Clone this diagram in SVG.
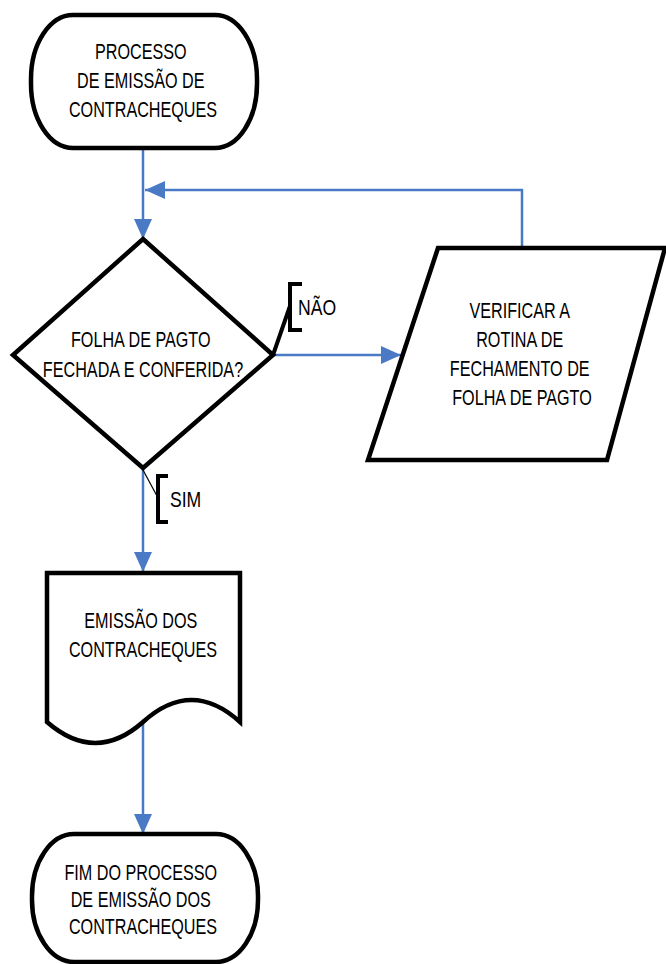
<svg xmlns="http://www.w3.org/2000/svg" width="666" height="964" viewBox="0 0 666 964">
  <style>
    .shape { fill: #ffffff; stroke: #000000; stroke-width: 4.5; stroke-linejoin: miter; }
    .flow { fill: none; stroke: #4A7AC6; stroke-width: 2.5; }
    .tag { fill: none; stroke: #000000; stroke-width: 4; }
    .thin { fill: none; stroke: #000000; stroke-width: 1.2; }
    text { font-family: "Liberation Sans", Arial, sans-serif; font-size: 22px; fill: #000000; }
    .c { text-anchor: middle; }
  </style>
  <defs>
    <marker id="arrow" viewBox="0 0 20 18" refX="20" refY="9" markerWidth="20" markerHeight="18" markerUnits="userSpaceOnUse" orient="auto">
      <path d="M0,0 L20,9 L0,18 Z" fill="#4A7AC6"/>
    </marker>
  </defs>

  <!-- connectors -->
  <g id="connectors">
    <path class="flow" d="M143,150 V239" marker-end="url(#arrow)"/>
    <path class="flow" d="M522,248 V190 H145" marker-end="url(#arrow)"/>
    <path class="flow" d="M273,355 H401" marker-end="url(#arrow)"/>
    <path class="flow" d="M143,468 V572" marker-end="url(#arrow)"/>
    <path class="flow" d="M143,722 V834" marker-end="url(#arrow)"/>
    <!-- branch labels -->
    <path class="tag" d="M273,355 L290,306"/>
    <path class="tag" d="M302,284 H290 V330 H302"/>
    <text transform="translate(298 315) scale(0.8 1)">NÃO</text>
    <path class="thin" d="M143,470 L157,496"/>
    <path class="tag" d="M168,476 H158 V522 H168"/>
    <text transform="translate(170 507) scale(0.8 1)">SIM</text>
  </g>

  <!-- start terminator -->
  <g id="start">
    <rect class="shape" x="31" y="15" width="226" height="133" rx="42" ry="64"/>
    <text class="c" transform="translate(143 59) scale(0.735 1)">
      <tspan x="0" y="0">PROCESSO</tspan>
      <tspan x="0" y="29">DE EMISSÃO DE</tspan>
      <tspan x="0" y="58">CONTRACHEQUES</tspan>
    </text>
  </g>

  <!-- decision -->
  <g id="decision">
    <polygon class="shape" points="143,239 273,355 143,468 13,355"/>
    <text class="c" transform="translate(143 347) scale(0.735 1)">
      <tspan x="0" y="0">FOLHA DE PAGTO</tspan>
      <tspan x="0" y="30">FECHADA E CONFERIDA?</tspan>
    </text>
  </g>

  <!-- check routine -->
  <g id="verify">
    <polygon class="shape" points="438,248 665,248 607,460 368,460"/>
    <text class="c" transform="translate(522 318) scale(0.735 1)">
      <tspan x="0" y="0">VERIFICAR A</tspan>
      <tspan x="0" y="29">ROTINA DE</tspan>
      <tspan x="0" y="58">FECHAMENTO DE</tspan>
      <tspan x="0" y="87">FOLHA DE PAGTO</tspan>
    </text>
  </g>

  <!-- document output -->
  <g id="document">
    <path class="shape" d="M47,573 H240 V722 Q191.5,678 143,722 Q95.5,764 47,722 Z"/>
    <text class="c" transform="translate(143 628) scale(0.735 1)">
      <tspan x="0" y="0">EMISSÃO DOS</tspan>
      <tspan x="0" y="29">CONTRACHEQUES</tspan>
    </text>
  </g>

  <!-- end terminator -->
  <g id="end">
    <rect class="shape" x="32" y="834" width="226" height="128" rx="42" ry="62"/>
    <text class="c" transform="translate(143 880) scale(0.735 1)">
      <tspan x="0" y="0">FIM DO PROCESSO</tspan>
      <tspan x="0" y="27">DE EMISSÃO DOS</tspan>
      <tspan x="0" y="54">CONTRACHEQUES</tspan>
    </text>
  </g>
</svg>
